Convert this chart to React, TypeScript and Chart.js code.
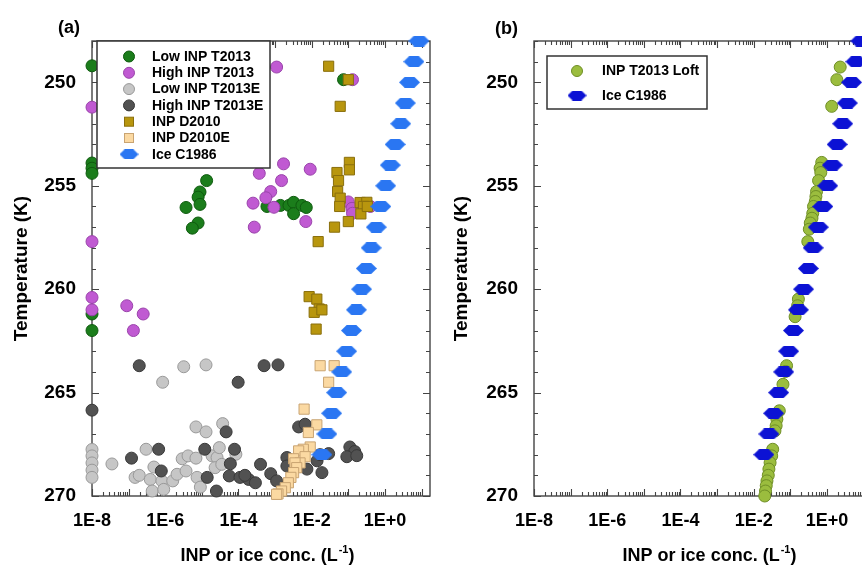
import React, { useEffect, useRef } from 'react';
import { Chart, registerables } from 'chart.js';

Chart.register(...registerables);

const FONT = '"Liberation Sans", Arial, Helvetica, sans-serif';

// ---------- axis ticks ----------
const yTickValues = [250, 255, 260, 265, 270];
const xTickValues = [1e-8, 1e-6, 1e-4, 1e-2, 1];
const xTickLabels = ['1E-8', '1E-6', '1E-4', '1E-2', '1E+0'];
const yMin = 248;
const yMax = 270;
const xMin = 1e-8;
const xMax = 17;

// ---------- data: [concentration (L^-1), temperature (K)] ----------
const lowInpT2013: [number, number][] = [
  [1e-8, 249.2], [1e-8, 253.9], [1e-8, 254.15], [1e-8, 254.4], [1e-8, 261.2], [1e-8, 262.0],
  [1.35e-5, 254.75], [8.9e-6, 255.3], [7.9e-6, 255.55], [8.9e-6, 255.9], [3.7e-6, 256.05],
  [7.9e-6, 256.8], [5.5e-6, 257.05],
  [6.0e-4, 256.0], [1.4e-3, 255.95], [2.4e-3, 255.95], [3.2e-3, 255.8], [3.2e-3, 256.35],
  [5.4e-3, 255.95], [7.1e-3, 256.05],
  [7.4e-2, 249.87],
];

const highInpT2013: [number, number][] = [
  [1e-8, 251.2], [1e-8, 257.7], [1e-8, 260.4], [1e-8, 261.0],
  [8.9e-8, 260.8], [2.5e-7, 261.2], [1.35e-7, 262.0],
  [1.1e-3, 249.26], [0.13, 249.87],
  [1.7e-3, 253.94], [9.1e-3, 254.2], [3.7e-4, 254.4], [1.5e-3, 254.75], [7.6e-4, 255.28],
  [5.6e-4, 255.58], [2.5e-4, 255.84], [9.3e-4, 256.04], [6.9e-3, 256.73], [2.7e-4, 257.0],
  [0.10, 255.78], [0.126, 256.09], [0.13, 256.33], [0.40, 256.0],
];

const lowInpT2013E: [number, number][] = [
  [3.2e-6, 263.75], [1.3e-5, 263.66], [8.5e-7, 264.5],
  [1e-8, 267.75], [1e-8, 268.06], [1e-8, 268.4], [1e-8, 268.75], [1e-8, 269.1],
  [3.5e-8, 268.45], [3.0e-7, 267.74], [6.9e-6, 266.66], [1.3e-5, 266.9], [3.7e-5, 266.5],
  [4.9e-7, 268.6], [1.5e-7, 269.1], [1.95e-7, 269.0], [3.9e-7, 269.2], [4.4e-7, 269.76],
  [8.1e-7, 269.27], [9.1e-7, 269.68], [1.6e-6, 269.27], [2.1e-6, 268.95], [3.7e-6, 268.79],
  [2.9e-6, 268.2], [4.2e-6, 268.06], [6.9e-6, 268.17], [7.4e-6, 269.1], [9.1e-6, 269.57],
  [1.9e-5, 268.06], [2.6e-5, 268.14], [3.0e-5, 267.66], [2.3e-5, 268.63], [3.5e-5, 268.47],
  [8.5e-5, 267.98],
];

const highInpT2013E: [number, number][] = [
  [1.95e-7, 263.7], [9.8e-5, 264.5], [1e-8, 265.85], [4.6e-5, 266.9],
  [6.6e-7, 267.74], [1.2e-7, 268.17], [1.2e-5, 267.74], [7.8e-5, 267.74], [7.8e-7, 268.79],
  [6.0e-5, 268.44], [1.4e-5, 269.1], [2.5e-5, 269.76], [5.6e-5, 269.03],
  [1.1e-4, 269.1], [1.9e-4, 269.2], [2.9e-4, 269.36], [4.0e-4, 268.47],
  [5.0e-4, 263.7], [1.2e-3, 263.66], [4.4e-3, 266.66], [6.6e-3, 266.53],
  [7.6e-4, 268.92], [1.1e-3, 269.27], [1.5e-4, 269.0],
  [2.1e-3, 268.14], [2.1e-3, 268.55], [7.4e-3, 268.7], [1.4e-2, 268.3], [1.9e-2, 268.87],
  [2.9e-2, 267.95], [0.11, 267.63], [0.15, 267.85], [0.091, 268.1], [0.17, 268.05],
  [1.7e-2, 268.0],
];

const inpD2010: [number, number][] = [
  [0.029, 249.22], [0.10, 249.87], [0.060, 251.16],
  [0.107, 253.87], [0.107, 254.23], [0.049, 254.36], [0.054, 254.75], [0.051, 255.28],
  [0.060, 255.6], [0.058, 256.0], [0.21, 255.81], [0.32, 255.8], [0.26, 256.0],
  [0.22, 256.36], [0.33, 256.0], [0.10, 256.73], [0.042, 257.0], [0.015, 257.7],
  [8.5e-3, 260.36], [0.0138, 260.48], [0.016, 260.96], [0.0117, 261.12], [0.019, 261.0],
  [0.0132, 261.93],
];

const inpD2010E: [number, number][] = [
  [0.017, 263.7], [0.041, 263.7], [0.029, 264.5], [6.2e-3, 265.8], [0.0138, 266.56],
  [8.1e-3, 266.93], [9.1e-3, 267.63], [5.9e-3, 267.74], [4.4e-3, 267.82], [6.6e-3, 268.1],
  [3.2e-3, 268.2], [4.8e-3, 268.4], [3.5e-3, 268.4], [3.9e-3, 268.63], [3.2e-3, 268.87],
  [2.7e-3, 269.1], [2.3e-3, 269.36], [1.9e-3, 269.6], [1.5e-3, 269.76], [1.2e-3, 269.9],
  [1.1e-3, 269.92],
];

const iceC1986: [number, number][] = [
  [8.5, 248], [6.2, 249], [4.7, 250], [3.6, 251], [2.7, 252], [1.9, 253], [1.4, 254],
  [1.05, 255], [0.77, 256], [0.58, 257], [0.42, 258], [0.31, 259], [0.23, 260],
  [0.166, 261], [0.122, 262], [0.090, 263], [0.066, 264], [0.048, 265], [0.035, 266],
  [0.026, 267], [0.019, 268],
];

const inpT2013Loft: [number, number][] = [
  [2.3, 249.26], [1.86, 249.87], [1.35, 251.16],
  [0.72, 253.87], [0.65, 254.15], [0.68, 254.36], [0.59, 254.75], [0.52, 255.28],
  [0.50, 255.52], [0.48, 255.76], [0.43, 256.0], [0.41, 256.33], [0.39, 256.57],
  [0.35, 256.8], [0.33, 257.1], [0.30, 257.7],
  [0.166, 260.48], [0.158, 260.8], [0.145, 261.04], [0.135, 261.33],
  [0.079, 263.7], [0.074, 263.98], [0.063, 264.6], [0.050, 265.88], [0.043, 266.29],
  [0.041, 266.6], [0.038, 266.85], [0.033, 267.74], [0.031, 268.06], [0.028, 268.39],
  [0.026, 268.7], [0.025, 269.0], [0.023, 269.27], [0.022, 269.5], [0.021, 269.76],
  [0.020, 270.0],
];

// ---------- styles ----------
const AXIS_COLOR = '#444444';
const ICE_A = '#2a76f2';
const ICE_B = '#0c12d4';

type Kind = 'circle' | 'rect' | 'hex';
interface SeriesStyle { label: string; kind: Kind; fill: string; border: string; }

const styleLowT2013: SeriesStyle = { label: 'Low INP T2013', kind: 'circle', fill: '#1b7d1b', border: '#0e5a0e' };
const styleHighT2013: SeriesStyle = { label: 'High INP T2013', kind: 'circle', fill: '#c05ad2', border: '#9944aa' };
const styleLowT2013E: SeriesStyle = { label: 'Low INP T2013E', kind: 'circle', fill: '#c6c6c6', border: '#999999' };
const styleHighT2013E: SeriesStyle = { label: 'High INP T2013E', kind: 'circle', fill: '#525252', border: '#383838' };
const styleD2010: SeriesStyle = { label: 'INP D2010', kind: 'rect', fill: '#b8960e', border: '#8a6f0c' };
const styleD2010E: SeriesStyle = { label: 'INP D2010E', kind: 'rect', fill: '#fbd9a2', border: '#c9a472' };
const styleIceA: SeriesStyle = { label: 'Ice C1986', kind: 'hex', fill: ICE_A, border: ICE_A };
const styleLoft: SeriesStyle = { label: 'INP T2013 Loft', kind: 'circle', fill: '#9bbd3e', border: '#6f8e26' };
const styleIceB: SeriesStyle = { label: 'Ice C1986', kind: 'hex', fill: ICE_B, border: ICE_B };

const HEX_W = 21;
const HEX_H = 11;

function makeHex(fill: string, w: number, h: number): HTMLCanvasElement {
  const c = document.createElement('canvas');
  c.width = w;
  c.height = h;
  const g = c.getContext('2d')!;
  g.fillStyle = fill;
  g.beginPath();
  g.moveTo(0, h / 2);
  g.lineTo(w * 0.27, 0);
  g.lineTo(w * 0.73, 0);
  g.lineTo(w, h / 2);
  g.lineTo(w * 0.73, h);
  g.lineTo(w * 0.27, h);
  g.closePath();
  g.fill();
  return c;
}

function makeDataset(s: SeriesStyle, data: [number, number][], order: number, hex?: HTMLCanvasElement) {
  const radius = s.kind === 'rect' ? 7.2 : 6;
  return {
    label: s.label,
    data: data.map(([x, y]) => ({ x, y })),
    backgroundColor: s.fill,
    borderColor: s.border,
    borderWidth: s.kind === 'hex' ? 0 : 1,
    pointStyle: s.kind === 'hex' ? hex : s.kind,
    pointRadius: radius,
    pointHoverRadius: radius,
    showLine: false,
    clip: false as const,
    order,
  };
}

interface PanelSpec {
  tag: string;
  yAxisWidth: number;
  rightPad: number;
  legendBox: { left: number; top: number; right: number; bottom: number };
  legendMarkerX: number;
  legendTextX: number;
  legendRowY: number[];
  legendItems: SeriesStyle[];
  tagX: number;
  tagY: number;
}

function drawLegendMarker(ctx: CanvasRenderingContext2D, s: SeriesStyle, x: number, y: number, hex?: HTMLCanvasElement) {
  ctx.save();
  ctx.fillStyle = s.fill;
  ctx.strokeStyle = s.border;
  ctx.lineWidth = 1;
  if (s.kind === 'circle') {
    ctx.beginPath();
    ctx.arc(x, y, 5.5, 0, Math.PI * 2);
    ctx.fill();
    ctx.stroke();
  } else if (s.kind === 'rect') {
    ctx.fillRect(x - 4.5, y - 4.5, 9, 9);
    ctx.strokeRect(x - 4.5, y - 4.5, 9, 9);
  } else if (hex) {
    ctx.drawImage(hex, x - hex.width / 2, y - hex.height / 2);
  }
  ctx.restore();
}

function buildConfig(spec: PanelSpec, datasets: any[], legendHex: HTMLCanvasElement): any {
  const decorations = {
    id: 'decorations' + spec.tag,
    beforeDatasetsDraw(chart: any) {
      const { ctx, chartArea } = chart;
      const { left, right, top, bottom } = chartArea;
      const xs = chart.scales.x;
      const ys = chart.scales.y;
      ctx.save();
      ctx.strokeStyle = AXIS_COLOR;
      ctx.lineWidth = 1.4;
      ctx.strokeRect(left, top, right - left, bottom - top);
      ctx.lineWidth = 1.1;
      ctx.beginPath();
      for (let t = yMin; t <= yMax; t++) {
        const py = Math.round(ys.getPixelForValue(t)) + 0.5;
        const len = t % 5 === 0 ? 7 : 4;
        ctx.moveTo(left, py); ctx.lineTo(left + len, py);
        ctx.moveTo(right, py); ctx.lineTo(right - len, py);
      }
      for (let e = -8; e <= 1; e++) {
        for (let m = 1; m <= 9; m++) {
          const v = m * Math.pow(10, e);
          if (v > xMax) break;
          const px = Math.round(xs.getPixelForValue(v)) + 0.5;
          const len = m === 1 ? 7 : 4;
          ctx.moveTo(px, bottom); ctx.lineTo(px, bottom - len);
          ctx.moveTo(px, top); ctx.lineTo(px, top + len);
        }
      }
      ctx.stroke();
      ctx.restore();
    },
    afterDatasetsDraw(chart: any) {
      const { ctx, chartArea } = chart;
      ctx.save();
      const b = spec.legendBox;
      ctx.fillStyle = '#ffffff';
      ctx.fillRect(b.left, b.top, b.right - b.left, b.bottom - b.top);
      ctx.strokeStyle = '#333333';
      ctx.lineWidth = 1.5;
      ctx.strokeRect(b.left, b.top, b.right - b.left, b.bottom - b.top);
      ctx.font = `bold 14px ${FONT}`;
      ctx.textAlign = 'left';
      ctx.textBaseline = 'middle';
      spec.legendItems.forEach((s, i) => {
        const y = spec.legendRowY[i];
        drawLegendMarker(ctx, s, spec.legendMarkerX, y, legendHex);
        ctx.fillStyle = '#000';
        ctx.fillText(s.label, spec.legendTextX, y + 0.5);
      });
      ctx.fillStyle = '#000';
      ctx.font = `bold 18px ${FONT}`;
      ctx.textBaseline = 'alphabetic';
      ctx.fillText(spec.tag, spec.tagX, spec.tagY);
      const main = 'INP or ice conc. (L';
      const sup = '-1';
      const end = ')';
      ctx.font = `bold 18px ${FONT}`;
      const w1 = ctx.measureText(main).width;
      const w3 = ctx.measureText(end).width;
      ctx.font = `bold 11px ${FONT}`;
      const w2 = ctx.measureText(sup).width;
      const cx = chartArea.left + 175;
      const by = 561;
      let x = cx - (w1 + w2 + w3) / 2;
      ctx.font = `bold 18px ${FONT}`;
      ctx.fillText(main, x, by);
      x += w1 + 1;
      ctx.font = `bold 11px ${FONT}`;
      ctx.fillText(sup, x, by - 8);
      x += w2;
      ctx.font = `bold 18px ${FONT}`;
      ctx.fillText(end, x, by);
      ctx.restore();
    },
  };

  const tickFont = { family: FONT, size: 18, weight: 'bold' as const };

  return {
    type: 'scatter',
    data: { datasets },
    options: {
      responsive: false,
      animation: false,
      devicePixelRatio: 1,
      events: [],
      layout: { padding: { top: 41, right: spec.rightPad, left: 0, bottom: 0 }, autoPadding: false },
      plugins: { legend: { display: false }, title: { display: false }, tooltip: { enabled: false } },
      scales: {
        x: {
          type: 'logarithmic',
          position: 'bottom',
          min: xMin,
          max: xMax,
          grid: { display: false, drawTicks: false },
          border: { display: false },
          afterBuildTicks: (s: any) => { s.ticks = xTickValues.map((v) => ({ value: v })); },
          ticks: {
            autoSkip: false,
            maxRotation: 0,
            padding: 14,
            color: '#000',
            font: tickFont,
            callback: (v: number) => {
              const i = xTickValues.indexOf(v);
              return i >= 0 ? xTickLabels[i] : '';
            },
          },
          title: { display: false },
          afterFit: (s: any) => { s.height = 70; },
        },
        y: {
          type: 'linear',
          position: 'left',
          min: yMin,
          max: yMax,
          reverse: true,
          grid: { display: false, drawTicks: false },
          border: { display: false },
          afterBuildTicks: (s: any) => { s.ticks = yTickValues.map((v) => ({ value: v })); },
          ticks: { padding: 16, color: '#000', font: { family: FONT, size: 19, weight: 'bold' } },
          title: {
            display: true,
            text: 'Temperature (K)',
            color: '#000',
            font: { family: FONT, size: 19, weight: 'bold' },
            padding: { top: 10, bottom: 0 },
          },
          afterFit: (s: any) => { s.width = spec.yAxisWidth; },
        },
      },
    },
    plugins: [decorations],
  };
}

function Panel({ spec, makeDatasets, hexColor, left }: { spec: PanelSpec; makeDatasets: (hex: HTMLCanvasElement) => any[]; hexColor: string; left: number }) {
  const ref = useRef<HTMLCanvasElement | null>(null);
  useEffect(() => {
    if (!ref.current) return;
    const hex = makeHex(hexColor, HEX_W, HEX_H);
    const legendHex = makeHex(hexColor, 19, 10);
    const chart = new Chart(ref.current, buildConfig(spec, makeDatasets(hex), legendHex));
    return () => chart.destroy();
  }, []);
  return (
    <canvas
      ref={ref}
      width={440}
      height={566}
      style={{ position: 'absolute', left, top: 0, width: 440, height: 566, display: 'block' }}
    />
  );
}

const specA: PanelSpec = {
  tag: '(a)',
  yAxisWidth: 92,
  rightPad: 10,
  legendBox: { left: 97, top: 41, right: 270, bottom: 168 },
  legendMarkerX: 129,
  legendTextX: 152,
  legendRowY: [56.5, 72.8, 89.1, 105.4, 121.7, 138.0, 154.3],
  legendItems: [styleLowT2013, styleHighT2013, styleLowT2013E, styleHighT2013E, styleD2010, styleD2010E, styleIceA],
  tagX: 58,
  tagY: 33,
};

const specB: PanelSpec = {
  tag: '(b)',
  yAxisWidth: 94,
  rightPad: 8,
  legendBox: { left: 107, top: 56, right: 267, bottom: 109 },
  legendMarkerX: 137,
  legendTextX: 162,
  legendRowY: [71, 95.5],
  legendItems: [styleLoft, styleIceB],
  tagX: 55,
  tagY: 34,
};

export default function App() {
  return (
    <div style={{ position: 'fixed', left: 0, top: 0, width: 862, height: 566, overflow: 'hidden', background: '#fff' }}>
      <Panel
        spec={specA}
        left={0}
        hexColor={ICE_A}
        makeDatasets={(hex) => [
          makeDataset(styleLowT2013, lowInpT2013, 7),
          makeDataset(styleHighT2013, highInpT2013, 6),
          makeDataset(styleLowT2013E, lowInpT2013E, 5),
          makeDataset(styleHighT2013E, highInpT2013E, 4),
          makeDataset(styleD2010, inpD2010, 3),
          makeDataset(styleD2010E, inpD2010E, 2),
          makeDataset(styleIceA, iceC1986, 1, hex),
        ]}
      />
      <Panel
        spec={specB}
        left={440}
        hexColor={ICE_B}
        makeDatasets={(hex) => [
          makeDataset(styleLoft, inpT2013Loft, 2),
          makeDataset(styleIceB, iceC1986, 1, hex),
        ]}
      />
    </div>
  );
}
